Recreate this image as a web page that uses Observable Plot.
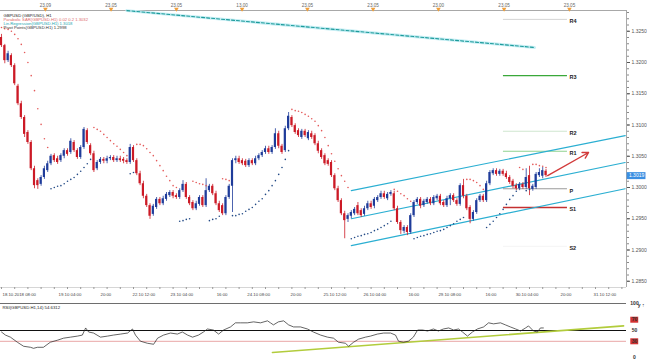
<!DOCTYPE html>
<html><head><meta charset="utf-8">
<script src="https://cdn.jsdelivr.net/npm/d3@7"></script>
<script src="https://cdn.jsdelivr.net/npm/@observablehq/plot@0.6"></script>
<style>
html,body{margin:0;padding:0;background:#fff;}
#wrap{position:relative;width:647px;height:360px;overflow:hidden;background:#fff;}
#main{position:absolute;left:0;top:0;}
#lower{position:absolute;left:0;top:300px;}
svg{display:block;overflow:visible}
</style></head><body>
<div id="wrap"><div id="main"></div><div id="lower"></div></div>
<script>
// ---------- DATA (GBP/USD, hourly candles, index = bar number) ----------
const opens = [1.3240,1.3227,1.3203,1.3211,1.3195,1.3162,1.3134,1.3112,1.3088,1.3072,
1.3030,1.3011,1.3005,1.3016,1.3027,1.3038,1.3051,1.3046,1.3043,1.3050,
1.3059,1.3056,1.3072,1.3059,1.3048,1.3064,1.3091,1.3067,1.3054,1.3030,
1.3040,1.3045,1.3042,1.3046,1.3048,1.3043,1.3046,1.3045,1.3043,1.3040,
1.3064,1.3043,1.3022,1.3006,1.2986,1.2971,1.2957,1.2968,1.2981,1.2974,
1.2981,1.2987,1.2992,1.2987,1.2984,1.2995,1.3005,1.2984,1.2976,1.2966,
1.2973,1.2984,1.2971,1.2995,1.3002,1.2990,1.2974,1.2971,1.2958,1.2984,
1.3002,1.3043,1.3046,1.3043,1.3042,1.3035,1.3043,1.3038,1.3046,1.3051,
1.3056,1.3062,1.3056,1.3064,1.3086,1.3066,1.3059,1.3094,1.3112,1.3099,
1.3091,1.3080,1.3090,1.3078,1.3086,1.3083,1.3070,1.3059,1.3051,1.3043,
1.3040,1.3019,1.2998,1.2979,1.2958,1.2949,1.2954,1.2958,1.2971,1.2963,
1.2957,1.2966,1.2974,1.2970,1.2979,1.2984,1.2990,1.2982,1.2989,1.2990,
1.2966,1.2944,1.2930,1.2936,1.2928,1.2955,1.2976,1.2981,1.2971,1.2976,
1.2981,1.2974,1.2982,1.2986,1.2976,1.2971,1.2982,1.2987,1.2979,1.2973,
1.3003,1.2986,1.2968,1.2949,1.2960,1.2979,1.2986,1.2979,1.3006,1.3022,
1.3027,1.3021,1.3026,1.3022,1.3016,1.3010,1.3003,1.2998,1.3005,1.3000,
1.3019,1.2997,1.3000,1.3019,1.3018,1.3026];
const highs = [1.3245,1.3229,1.3218,1.3214,1.3198,1.3165,1.3138,1.3115,1.3091,1.3075,
1.3034,1.3014,1.3019,1.3034,1.3042,1.3053,1.3054,1.3050,1.3054,1.3062,
1.3062,1.3078,1.3075,1.3062,1.3067,1.3096,1.3094,1.3070,1.3058,1.3043,
1.3048,1.3048,1.3050,1.3051,1.3051,1.3050,1.3050,1.3048,1.3046,1.3069,
1.3067,1.3046,1.3026,1.3010,1.2989,1.2974,1.2973,1.2984,1.2984,1.2986,
1.2992,1.2995,1.2995,1.2990,1.2998,1.3011,1.3008,1.2987,1.2979,1.2978,
1.2987,1.2987,1.3014,1.3005,1.3005,1.2994,1.2978,1.2974,1.2987,1.3005,
1.3046,1.3050,1.3050,1.3046,1.3045,1.3046,1.3046,1.3050,1.3054,1.3059,
1.3066,1.3066,1.3067,1.3094,1.3090,1.3069,1.3098,1.3120,1.3115,1.3102,
1.3094,1.3093,1.3093,1.3091,1.3090,1.3086,1.3074,1.3062,1.3054,1.3046,
1.3043,1.3022,1.3002,1.2982,1.2962,1.2958,1.2963,1.2968,1.2976,1.2966,
1.2970,1.2978,1.2978,1.2984,1.2987,1.2994,1.2994,1.2992,1.2995,1.2994,
1.2970,1.2947,1.2939,1.2939,1.2958,1.2979,1.2984,1.2984,1.2981,1.2984,
1.2984,1.2987,1.2989,1.2989,1.2979,1.2986,1.2990,1.2990,1.2982,1.3006,
1.3013,1.2989,1.2971,1.2963,1.2982,1.2989,1.2989,1.3010,1.3027,1.3030,
1.3030,1.3029,1.3029,1.3026,1.3019,1.3013,1.3006,1.3008,1.3008,1.3030,
1.3034,1.3005,1.3024,1.3030,1.3032,1.3029];
const lows = [1.3224,1.3198,1.3200,1.3192,1.3163,1.3131,1.3109,1.3080,1.3069,1.3027,
1.2998,1.2997,1.3002,1.3013,1.3024,1.3035,1.3040,1.3037,1.3040,1.3046,
1.3050,1.3053,1.3056,1.3045,1.3045,1.3061,1.3069,1.3051,1.3024,1.3027,
1.3037,1.3038,1.3038,1.3043,1.3040,1.3040,1.3040,1.3038,1.3037,1.3037,
1.3040,1.3019,1.3003,1.2982,1.2968,1.2949,1.2954,1.2965,1.2971,1.2971,
1.2978,1.2984,1.2982,1.2981,1.2981,1.2992,1.2981,1.2971,1.2963,1.2963,
1.2970,1.2968,1.2968,1.2992,1.2987,1.2971,1.2960,1.2955,1.2955,1.2981,
1.2960,1.3038,1.3037,1.3035,1.3032,1.3032,1.3035,1.3035,1.3043,1.3048,
1.3053,1.3053,1.3053,1.3061,1.3062,1.3053,1.3056,1.3091,1.3096,1.3085,
1.3080,1.3077,1.3080,1.3075,1.3077,1.3067,1.3054,1.3045,1.3035,1.3034,
1.3016,1.2995,1.2976,1.2955,1.2918,1.2944,1.2950,1.2955,1.2955,1.2952,
1.2954,1.2963,1.2965,1.2966,1.2976,1.2981,1.2981,1.2979,1.2986,1.2963,
1.2941,1.2925,1.2926,1.2923,1.2925,1.2952,1.2973,1.2966,1.2968,1.2973,
1.2971,1.2971,1.2979,1.2971,1.2968,1.2968,1.2971,1.2976,1.2970,1.2970,
1.2982,1.2963,1.2942,1.2946,1.2957,1.2976,1.2976,1.2976,1.3003,1.3019,
1.3018,1.3018,1.3018,1.3013,1.3005,1.2998,1.2995,1.2995,1.2997,1.2997,
1.2987,1.2994,1.2997,1.3016,1.3014,1.3016];
const closes = [1.3227,1.3203,1.3214,1.3195,1.3166,1.3134,1.3112,1.3085,1.3072,1.3030,
1.3003,1.3003,1.3016,1.3030,1.3038,1.3050,1.3043,1.3040,1.3051,1.3059,
1.3053,1.3074,1.3059,1.3048,1.3064,1.3093,1.3072,1.3054,1.3027,1.3040,
1.3045,1.3042,1.3046,1.3048,1.3043,1.3046,1.3043,1.3042,1.3040,1.3064,
1.3043,1.3022,1.3006,1.2986,1.2971,1.2954,1.2970,1.2981,1.2974,1.2982,
1.2989,1.2992,1.2986,1.2984,1.2995,1.3005,1.2984,1.2974,1.2966,1.2974,
1.2984,1.2971,1.2995,1.3002,1.2990,1.2974,1.2963,1.2958,1.2984,1.3002,
1.3043,1.3046,1.3040,1.3038,1.3035,1.3043,1.3038,1.3046,1.3051,1.3056,
1.3062,1.3056,1.3064,1.3086,1.3066,1.3056,1.3094,1.3114,1.3099,1.3088,
1.3083,1.3090,1.3083,1.3088,1.3080,1.3070,1.3058,1.3048,1.3038,1.3037,
1.3019,1.2998,1.2979,1.2958,1.2947,1.2955,1.2960,1.2965,1.2958,1.2955,
1.2966,1.2974,1.2968,1.2981,1.2984,1.2990,1.2984,1.2989,1.2992,1.2966,
1.2944,1.2931,1.2936,1.2928,1.2955,1.2976,1.2981,1.2970,1.2978,1.2981,
1.2974,1.2984,1.2986,1.2974,1.2971,1.2982,1.2987,1.2979,1.2973,1.3003,
1.2986,1.2966,1.2949,1.2960,1.2979,1.2986,1.2979,1.3006,1.3024,1.3027,
1.3021,1.3026,1.3021,1.3016,1.3008,1.3002,1.2998,1.3005,1.3000,1.3016,
1.2998,1.3002,1.3021,1.3024,1.3027,1.3019];
// Parabolic SAR, one value per bar
const sar = [1.3256,1.3254,1.3253,1.3250,1.3245,1.3238,1.3229,1.3216,1.3200,1.3179,1.3155,1.3126,1.3101,1.3078,1.3064,
1.2998,1.3000,1.3002,1.3003,1.3006,1.3010,1.3013,1.3016,1.3021,1.3026,1.3032,1.3038,1.3045,
1.3096,1.3093,1.3090,1.3085,1.3080,1.3075,1.3070,1.3066,1.3061,1.3056,1.3051,
1.3022,1.3024,
1.3069,1.3069,1.3067,1.3062,1.3056,1.3051,1.3043,1.3035,1.3027,1.3018,1.3011,1.3003,1.3000,
1.2946,1.2947,1.2949,1.2950,
1.3010,1.3008,1.3006,1.3005,1.3003,
1.2947,1.2949,1.2950,1.2954,
1.3014,1.3013,1.3011,
1.2955,1.2955,1.2957,1.2958,1.2962,1.2965,1.2968,1.2973,1.2978,1.2982,1.2989,1.2995,1.3003,1.3011,1.3021,1.3032,1.3045,1.3059,
1.3125,1.3123,1.3122,1.3120,1.3117,1.3114,1.3110,1.3106,1.3099,1.3091,1.3080,1.3067,1.3054,1.3042,1.3030,1.3019,1.3010,1.3000,
1.2918,1.2920,1.2922,1.2923,1.2925,1.2926,1.2928,1.2931,1.2933,1.2936,1.2939,1.2942,1.2946,
1.2997,1.2994,1.2990,1.2987,1.2982,1.2978,
1.2918,1.2920,1.2922,1.2923,1.2925,1.2926,1.2928,1.2930,1.2931,1.2933,1.2936,1.2939,1.2942,1.2946,1.2949,1.2952,
1.3013,1.3013,1.3011,1.3008,1.3003,1.2997,
1.2936,1.2941,1.2946,1.2952,1.2958,1.2965,1.2973,1.2981,1.2987,1.2994,
1.3032,1.3029,
1.2995,1.2997,
1.3037,1.3037,1.3035,1.3034,1.3032];
// RSI(14): bar index and value
const rsiIdx = [0,1.2,2.7,4.8,6.7,8.8,9.7,10.9,12.7,14.8,17,18.8,20.9,23,24.5,25.5,26.4,27.9,30,32.1,
33.9,36.1,38.2,39.7,40.6,42.1,44.2,46.1,47.3,49.1,51.2,53.3,54.8,56.4,57.9,59.7,61.2,62.4,64.2,65.8,
67.3,69.4,70.9,72.4,74.5,76.4,78.5,80.6,81.5,82.4,83.9,85.5,87,88.5,90.6,92.7,94.5,96.7,98.8,100.6,
102.1,104.2,105.2,106.7,108.2,110.3,111.8,113.9,115.8,117.9,119.4,120.3,121.8,123.3,124.8,126.1,127.6,129.1,130.9,132.4,
133.9,135.5,137,138.5,139.7,141.2,142.7,144.2,146.1,147.6,149.1,151.2,152.7,154.2,155.8,157.3,158.8,159.7,161.2,162.4,
163.3,164.2];
const rsiVal = [47.2,41.5,37.7,28.3,20.8,18.9,17.0,18.9,18.9,28.3,32.1,35.8,37.7,39.6,41.5,54.7,47.2,45.3,37.7,39.6,
41.5,43.4,45.3,52.8,41.5,30.2,26.4,24.5,35.8,41.5,45.3,43.4,47.2,41.5,37.7,41.5,47.2,52.8,50.9,43.4,
50.9,56.6,64.2,64.2,64.2,66.0,64.2,67.9,64.2,60.4,66.0,67.9,60.4,56.6,56.6,52.8,47.2,41.5,37.7,35.8,
28.3,26.4,20.8,28.3,34.0,37.7,39.6,43.4,45.3,45.3,41.5,30.2,28.3,30.2,37.7,50.9,50.9,49.1,52.8,49.1,
52.8,54.7,50.9,52.8,47.2,39.6,47.2,52.8,56.6,64.2,62.3,64.2,60.4,56.6,52.8,49.1,54.7,58.5,49.1,47.2,
54.7,54.7];
// Pivot levels
const pivotNames = ["R4","R3","R2","R1","P","S1","S2"];
const pivotValues = [1.3269,1.3179,1.3090,1.3058,1.2998,1.2968,1.2906];
const pivotColors = ["#d4d4d4","#3aa83a","#cfe6cf","#8fd28f","#9a9a9a","#c43030","#f4f4f4"];
const pivotWidths = [1,1.4,1,1.2,1,1.4,1];
const pivotSpan = [152.1, 171.5];
const pivotLabelIdx = 172.1;
// Regression channel (bar index, price)
const channelIdx = [106, 189];
const channelUpper = [1.2995, 1.3083];
const channelMid = [1.2950, 1.3040];
const channelLower = [1.2907, 1.2998];
// Long dashed trend line at top
const topLineIdx = [38, 161.5];
const topLineVal = [1.3283, 1.3224];
// Forecast arrow
const arrowFrom = [165.5, 1.3019];
const arrowTo = [177.9, 1.3056];
// RSI trend line
const rsiTrendIdx = [82.1, 188.5];
const rsiTrendVal = [9.4, 58.5];
// Axis labels
const yTicks = [1.2850,1.2900,1.2950,1.3000,1.3050,1.3100,1.3150,1.3200,1.3250];
const xLabelIdx = [0.3,17.3,30,39.7,51.2,65.2,74.5,87.6,97.6,109.7,123.3,132.4,146.7,155.8,169.4,179.4];
const xLabels = ["18.10.2018 08:00","19.10 04:00","20:00","22.10 12:00","23.10 04:00","16:00","24.10 08:00","20:00",
"25.10 12:00","26.10 04:00","16:00","29.10 08:00","16:00","30.10 04:00","20:00","31.10 12:00"];
const evtIdx = [13.3,33.2,53.0,72.9,92.7,112.6,132.4,152.3,172.1];
const evtLabels = ["23.09","23.05","23.05","13.00","23.05","23.05","23.00","23.05","23.05"];
const rsiLevels = [0,30,50,70,100];
const legendLines = ["GBPUSD (GBP/USD), H1","Parabolic SAR(GBPUSD.H1) 0.02 0.2 1.3032","Lin.Regression(GBPUSD.H1) 1.3018","Pivot Points(GBPUSD.H1) 1.2998"];
const legendColors = ["#222","#e06a6a","#1ea6b0","#333"];

// ---------- BUILD ----------
const bars = opens.map((o,i)=>({i, o, h: highs[i], l: lows[i], c: closes[i]}));
const up = bars.filter(d => d.c >= d.o), dn = bars.filter(d => d.c < d.o);
const sarPts = sar.map((v,i)=>({i, v}));
const sarAbove = sarPts.filter(d => d.v > closes[d.i]);
const sarBelow = sarPts.filter(d => d.v <= closes[d.i]);
const pivots = pivotNames.map((n,k)=>({n, v: pivotValues[k], color: pivotColors[k], w: pivotWidths[k]}));
const mk = (xs, ys) => xs.map((x,k)=>({x, y: ys[k]}));
const rsi = mk(rsiIdx, rsiVal);
const last = closes[closes.length-1];
const xMin = -0.303, xMax = 189.39;
const yDom = [1.2840, 1.32832];
const font = "'Liberation Sans', Arial, sans-serif";
const UP = "#1f3c9a", DN = "#cc1a26";

const marks = [
  Plot.ruleY([yDom[1]], {stroke: "#a8a8a8"}),
  Plot.ruleY([yDom[0]], {stroke: "#d6d6d6"}),
  Plot.ruleX([xMax], {stroke: "#a8a8a8"}),
  Plot.line(mk(topLineIdx, topLineVal), {x: "x", y: "y", stroke: "#c6eef4", strokeWidth: 3}),
  Plot.line(mk(topLineIdx, topLineVal), {x: "x", y: "y", stroke: "#1d9b9b", strokeWidth: 1.1, strokeDasharray: "3,2"}),
];
pivots.forEach(p => marks.push(Plot.ruleY([p.v], {x1: pivotSpan[0], x2: pivotSpan[1], stroke: p.color, strokeWidth: p.w})));
marks.push(
  Plot.text(pivots, {x: pivotLabelIdx, y: "v", text: "n", textAnchor: "start", dy: 2, fontSize: 5.5, fontWeight: "bold", fill: "#222"}),
  Plot.line(mk(channelIdx, channelUpper), {x: "x", y: "y", stroke: "#2bafd2", strokeWidth: 1.2}),
  Plot.line(mk(channelIdx, channelMid), {x: "x", y: "y", stroke: "#2bafd2", strokeWidth: 1.2}),
  Plot.line(mk(channelIdx, channelLower), {x: "x", y: "y", stroke: "#2bafd2", strokeWidth: 1.2}),
  Plot.ruleX(up, {x: "i", y1: "l", y2: "h", stroke: UP, strokeWidth: 0.8}),
  Plot.ruleX(dn, {x: "i", y1: "l", y2: "h", stroke: DN, strokeWidth: 0.8}),
  Plot.rect(up, {x1: d => d.i - 0.33, x2: d => d.i + 0.33, y1: "o", y2: "c", fill: UP}),
  Plot.rect(dn, {x1: d => d.i - 0.33, x2: d => d.i + 0.33, y1: "o", y2: "c", fill: DN}),
  Plot.dot(sarAbove, {x: "i", y: "v", r: 0.8, fill: "#e45a5a"}),
  Plot.dot(sarBelow, {x: "i", y: "v", r: 0.8, fill: "#234a86"}),
  Plot.arrow([{a: arrowFrom, b: arrowTo}], {x1: d => d.a[0], y1: d => d.a[1], x2: d => d.b[0], y2: d => d.b[1], stroke: "#d23a3a", strokeWidth: 1.4, headLength: 7}),
  // right price axis
  Plot.axisY({anchor: "right", ticks: d3.range(1.285, 1.3285, 0.001), tickSize: 2, tickFormat: () => "", color: "#8a8a8a"}),
  Plot.axisY({anchor: "right", ticks: yTicks, tickSize: 3, tickPadding: 2, tickFormat: d3.format(".4f"), fontSize: 5, color: "#555"}),
  Plot.ruleY([last], {x1: xMax + 0.2, x2: xMax + 5.9, stroke: "#3b8fe2", strokeWidth: 7}),
  Plot.text([last], {x: xMax + 3.05, y: d => d, text: d => d.toFixed(4), fill: "#fff", fontSize: 5}),
  // time axis
  Plot.axisX({anchor: "bottom", ticks: d3.range(0, 190, 4), tickSize: 2, tickFormat: () => "", color: "#999"}),
  Plot.text(xLabelIdx.map((x,k)=>({x, t: xLabels[k]})), {x: "x", text: "t", frameAnchor: "bottom", dy: 8, textAnchor: "start", fontSize: 4.3, fill: "#444"}),
  // top event strip
  Plot.axisX({anchor: "top", ticks: evtIdx, tickSize: 3, tickFormat: () => "", color: "#d9a050"}),
  Plot.text(evtIdx.map((x,k)=>({x, t: evtLabels[k]})), {x: "x", text: "t", frameAnchor: "top", dy: -6.5, fontSize: 4.6, fill: "#666"}),
  Plot.dot(evtIdx, {x: d => d, frameAnchor: "top", dy: -1.5, symbol: "triangle", rotate: 180, r: 1.7, fill: "#f0a03c"})
);
legendLines.forEach((t,k) => marks.push(Plot.text([t], {frameAnchor: "top-left", dx: 3, dy: 3.3 + k*4, text: d => d, textAnchor: "start", fontSize: 4.2, fill: legendColors[k]})));

const main = Plot.plot({
  width: 647, height: 300,
  marginLeft: 0, marginRight: 21, marginTop: 10, marginBottom: 13,
  x: {domain: [xMin, xMax], axis: null},
  y: {domain: yDom, axis: null},
  style: {fontFamily: font, fontSize: "5px", background: "transparent", overflow: "visible"},
  marks
});
document.getElementById("main").appendChild(main);

const lower = Plot.plot({
  width: 647, height: 60,
  marginLeft: 0, marginRight: 21, marginTop: 3, marginBottom: 3,
  x: {domain: [xMin, xMax], axis: null},
  y: {domain: [0, 100], axis: null},
  style: {fontFamily: font, fontSize: "5px", background: "transparent", overflow: "visible"},
  marks: [
    Plot.ruleY([100], {x1: xMin, x2: xMax, stroke: "#6e6e6e"}),
    Plot.ruleY([30], {x1: xMin, x2: xMax, stroke: "#e9a6a6"}),
    Plot.ruleY([50], {x1: xMin, x2: xMax, stroke: "#111", strokeWidth: 1.2}),
    Plot.line(mk(rsiTrendIdx, rsiTrendVal), {x: "x", y: "y", stroke: "#b2cc3c", strokeWidth: 1.6}),
    Plot.line(rsi, {x: "x", y: "y", stroke: "#222", strokeWidth: 0.7}),
    Plot.ruleY([70, 30], {x1: xMax + 1.3, x2: xMax + 3.7, stroke: "#d23232", strokeWidth: 6}),
    Plot.axisY({anchor: "right", ticks: rsiLevels, tickSize: 0, tickPadding: 8, textAnchor: "middle", fontSize: 5, fontWeight: "bold", color: "#333"}),
    Plot.text(["RSI(GBPUSD.H1,14) 54.6312"], {frameAnchor: "top-left", dx: 2, dy: 2.5, text: d => d, textAnchor: "start", fontSize: 4.3, fill: "#222"})
  ]
});
document.getElementById("lower").appendChild(lower);
</script>
</body></html>
